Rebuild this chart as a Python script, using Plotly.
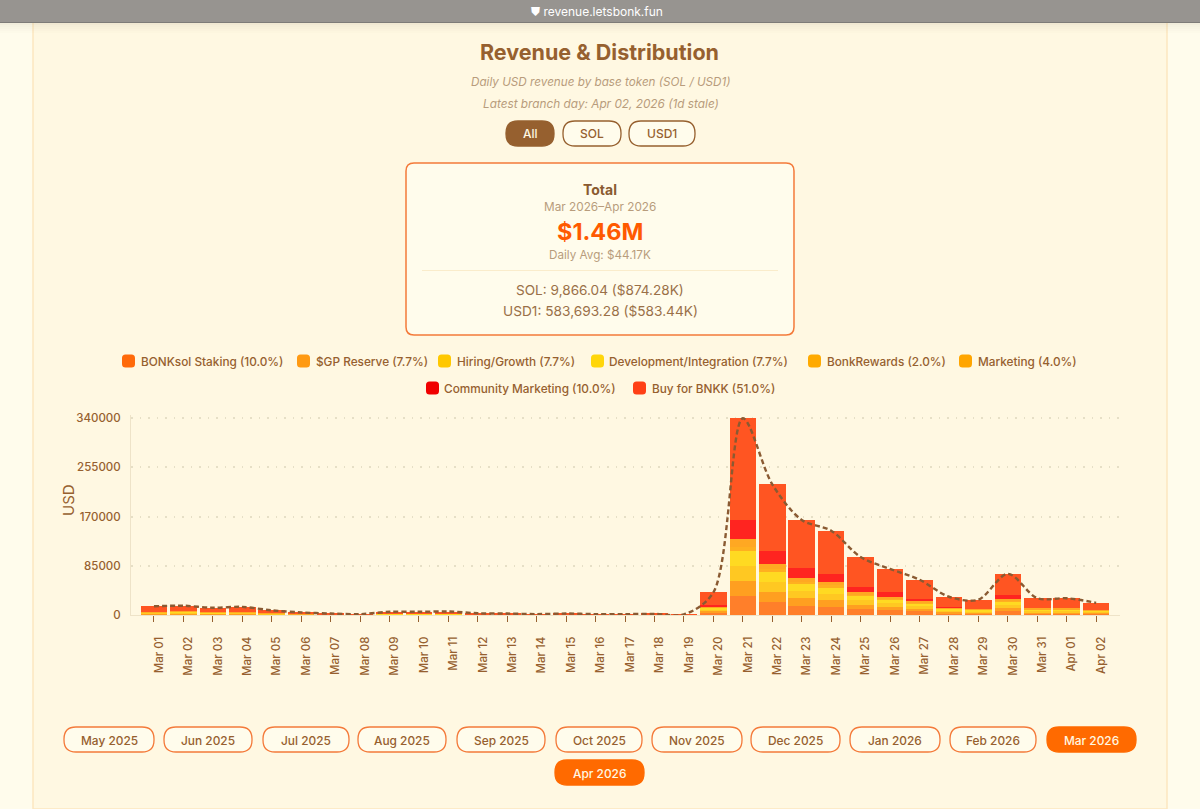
import plotly.graph_objects as go

days = ["Mar %02d" % d for d in range(1, 32)] + ["Apr 01", "Apr 02"]
bonksol = [1500,1600,1250,1400,800,450,250,150,550,550,600,300,250,150,250,150,150,200,100,3900,33000,22500,16400,14500,10000,7950,6100,3150,2650,7100,2900,2900,2100]
gp = [1150,1230,960,1080,620,350,190,120,420,420,460,230,190,120,190,120,120,150,80,3000,26100,17400,12600,11200,7700,6100,4700,2400,2050,5450,2230,2230,1620]
hiring = [1150,1230,960,1080,620,350,190,120,420,420,460,230,190,120,190,120,120,150,80,3000,26100,17400,12600,11200,7700,6100,4700,2400,2050,5450,2230,2230,1620]
dev = [1150,1230,960,1080,620,350,190,120,420,420,460,230,190,120,190,120,120,150,80,3000,26100,17400,12600,11200,7700,6100,4700,2400,2050,5450,2230,2230,1620]
bonkrewards = [300,320,250,280,160,90,50,30,110,110,120,60,50,30,50,30,30,40,20,780,6800,4500,3280,2910,2000,1590,1220,630,530,1420,580,580,420]
marketing = [600,640,500,560,320,180,100,60,220,220,240,120,100,60,100,60,60,80,40,1560,13600,9000,6560,5820,4000,3180,2440,1260,1060,2840,1160,1160,840]
community = [0,0,0,0,0,0,0,0,0,0,0,0,0,0,0,0,0,0,0,1500,33000,22500,16400,14500,10000,7950,4000,2000,0,7100,0,0,0]
buy = [9150,9760,7630,8540,4880,2750,1520,900,3350,3350,3660,1830,1520,900,1520,900,900,1220,610,22260,174800,114800,83560,74170,50900,40530,33140,17260,16110,36190,17670,17670,12780]
total = [15000,16000,12500,14000,8000,4500,2500,1500,5500,5500,6000,3000,2500,1500,2500,1500,1500,2000,1000,39000,339500,225500,164000,145500,100000,79500,61000,31500,26500,71000,29000,29000,21000]
y_ticks = [0, 85000, 170000, 255000, 340000]

series = [
    ("BONKsol Staking (10.0%)", bonksol, "#ff7f2a", "#ff6a0a", 122, 141, 361),
    ("$GP Reserve (7.7%)", gp, "#ff9f20", "#ff9a12", 297, 316, 361),
    ("Hiring/Growth (7.7%)", hiring, "#ffc822", "#ffc800", 438, 457, 361),
    ("Development/Integration (7.7%)", dev, "#ffda22", "#ffd60a", 591, 609, 361),
    ("BonkRewards (2.0%)", bonkrewards, "#ffb020", "#ffaa00", 808, 827, 361),
    ("Marketing (4.0%)", marketing, "#ffa822", "#ffa500", 959, 978, 361),
    ("Community Marketing (10.0%)", community, "#ff2420", "#f00000", 426, 444, 388),
    ("Buy for BNKK (51.0%)", buy, "#ff5522", "#ff4016", 633, 652, 388),
]

BROWN = "#96602f"
LIGHT = "#b89c7c"
ORANGE = "#f47a3a"
FONT = "Inter, Roboto, sans-serif"
L, R, T, B = 131, 1120, 415, 615
YTOP = 340000 * (B - T) / 197
px = lambda x: (x - L) / (R - L)
py = lambda y: (B - y) / (B - T)

shapes, anns = [], []

def rect(x0, y0, x1, y1, fill, line=None, w=1.3, r=0):
    X0, X1, Y0, Y1 = px(x0), px(x1), py(y0), py(y1)
    if r == 0:
        d = dict(type="rect", x0=X0, x1=X1, y0=Y0, y1=Y1)
    else:
        p = lambda a, b: f"{px(a):.5f},{py(b):.5f}"
        path = (f"M {p(x0+r,y0)} L {p(x1-r,y0)} Q {p(x1,y0)} {p(x1,y0+r)} L {p(x1,y1-r)} "
                f"Q {p(x1,y1)} {p(x1-r,y1)} L {p(x0+r,y1)} Q {p(x0,y1)} {p(x0,y1-r)} "
                f"L {p(x0,y0+r)} Q {p(x0,y0)} {p(x0+r,y0)} Z")
        d = dict(type="path", path=path)
    d.update(xref="paper", yref="paper", fillcolor=fill, layer="below",
             line=dict(color=line or "rgba(0,0,0,0)", width=w if line else 0))
    shapes.append(d)

def text(x, y, s, size=13, color=BROWN, anchor="center", weight=400, style="normal"):
    anns.append(dict(xref="paper", yref="paper", x=px(x), y=py(y + 0.5), text=s, showarrow=False,
                     xanchor=anchor, yanchor="middle", borderpad=0,
                     font=dict(family=FONT, size=size, color=color, weight=weight, style=style)))

# page chrome
rect(33, 22, 1167, 809, "#fff8e2", "#fde6c0", 1.5)
for i, a in enumerate([0.10, 0.07, 0.05, 0.03, 0.015]):
    rect(0, 23 + i * 2, 1200, 25 + i * 2, f"rgba(120,110,80,{a})")
rect(0, 0, 1200, 22, "#979490")
rect(0, 22, 1200, 23, "#7d7b78")
text(597, 10.5, "⛊ revenue.letsbonk.fun", 12, "#ffffff")

# header
text(599.5, 51, "Revenue &amp; Distribution", 21.5, BROWN, weight=700)
text(601, 81, "Daily USD revenue by base token (SOL / USD1)", 11.7, LIGHT, style="italic")
text(600.5, 104, "Latest branch day: Apr 02, 2026 (1d stale)", 11.8, LIGHT, style="italic")
rect(506, 121, 554, 146, BROWN, BROWN, 1.3, 12)
text(530, 133, "All", 12, "#fff8e2", weight=500)
for x0, x1, s in [(563, 621, "SOL"), (629, 695, "USD1")]:
    rect(x0, 121, x1, 146, "#fffcec", BROWN, 1.3, 12)
    text((x0 + x1) / 2, 133, s, 12, BROWN, weight=500)

# summary card
rect(406, 163, 794, 335, "#fffcec", ORANGE, 1.5, 8)
text(600, 189, "Total", 14, "#8a5a30", weight=700)
text(600, 207, "Mar 2026–Apr 2026", 11.8, LIGHT)
text(600, 231, "$1.46M", 23.5, "#ff5a00", weight=700)
text(600, 254, "Daily Avg: $44.17K", 11.7, LIGHT)
rect(422, 270, 778, 271, "#faeccb")
text(600, 289, "SOL: 9,866.04 ($874.28K)", 13.6, "#9a7048")
text(600, 310, "USD1: 583,693.28 ($583.44K)", 13.7, "#9a7048")

# legend
for name, _, _, swatch, sx, tx, ly in series:
    rect(sx, ly - 6.5, sx + 13, ly + 6.5, swatch, r=3.5)
    text(tx - 1, ly, name, 11.8, BROWN, anchor="left", weight=500)

# month buttons
months = [("May 2025", 64, 154), ("Jun 2025", 164, 252), ("Jul 2025", 263, 349), ("Aug 2025", 358, 446),
          ("Sep 2025", 457, 545), ("Oct 2025", 556, 642), ("Nov 2025", 652, 742), ("Dec 2025", 751, 840),
          ("Jan 2026", 850, 940), ("Feb 2026", 950, 1036)]
for s, x0, x1 in months:
    rect(x0, 727, x1, 752, "#fffcec", ORANGE, 1.3, 12)
    text((x0 + x1) / 2, 739.5, s, 11.9, BROWN, weight=500)
for s, x0, x1, y0 in [("Mar 2026", 1047, 1136, 727), ("Apr 2026", 555, 644, 760)]:
    rect(x0, y0, x1, y0 + 25, "#ff6a00", "#ff6a00", 1.3, 12)
    text((x0 + x1) / 2, y0 + 12.5, s, 11.9, "#fff8e2", weight=500)

# axis title
anns.append(dict(xref="paper", yref="paper", x=px(68), y=py(500), text="USD", showarrow=False, textangle=-90,
                 xanchor="center", yanchor="middle", font=dict(family=FONT, size=15, color=BROWN)))

fig = go.Figure()
for name, vals, color, *_ in series:
    fig.add_bar(x=days, y=vals, name=name, marker=dict(color=color, line=dict(width=0)), width=0.9)
fig.add_scatter(x=days, y=total, mode="lines", name="Total",
                line=dict(color="#8a5a32", width=2.4, dash="5px,3px", shape="spline", smoothing=0.9))

fig.update_layout(
    width=1200, height=809, barmode="stack", showlegend=False,
    margin=dict(l=L, r=1200 - R, t=T, b=809 - B, pad=0),
    paper_bgcolor="#fffcec", plot_bgcolor="rgba(0,0,0,0)",
    font=dict(family=FONT, color=BROWN),
    shapes=shapes, annotations=anns,
    xaxis=dict(type="category", categoryorder="array", categoryarray=days, range=[-0.78, 32.81],
               tickangle=-90, tickfont=dict(size=11.5, color=BROWN, family=FONT, weight=500), tickmode="array",
               tickvals=days, ticktext=days, ticks="outside", ticklen=6, tickwidth=1, tickcolor=BROWN,
               showgrid=False, showline=True, linecolor="#eee3c8", linewidth=1, zeroline=False,
               ticklabelstandoff=10, ticklabelshift=5),
    yaxis=dict(range=[0, YTOP], tickmode="array", tickvals=y_ticks, ticktext=[str(v) for v in y_ticks],
               tickfont=dict(size=11.5, color=BROWN, family=FONT, weight=500), showgrid=True, gridcolor="#e6dfc6",
               griddash="1.5px,7px", gridwidth=1.5, showline=True, linecolor="#eee3c8", linewidth=1,
               zeroline=False, ticks="", ticklabelstandoff=7),
)
fig.write_html("out.html", config=dict(displayModeBar=False),
               post_script="document.body.style.margin='0';document.body.style.overflow='hidden';")
